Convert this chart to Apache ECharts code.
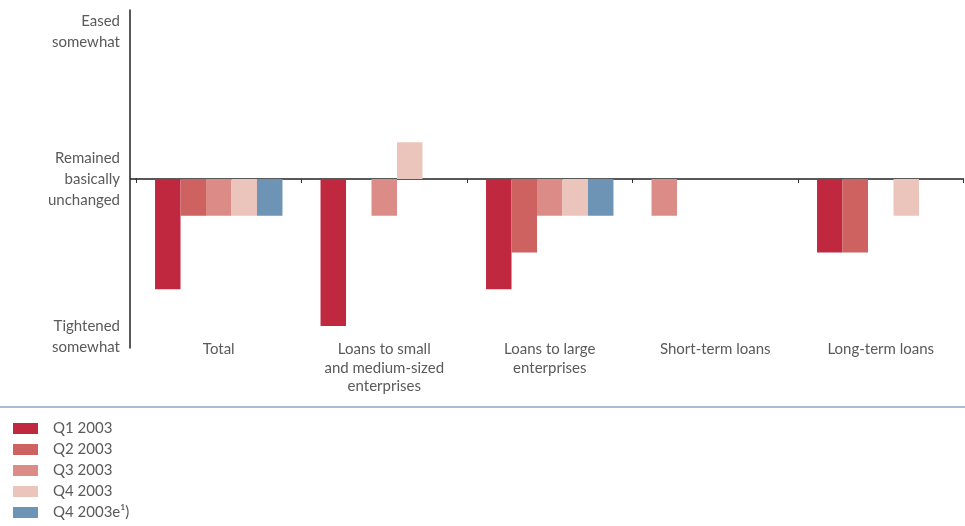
<!DOCTYPE html>
<html>
<head>
<meta charset="utf-8">
<script src="https://cdn.jsdelivr.net/npm/echarts@6/dist/echarts.min.js"></script>
<style>html,body{margin:0;padding:0;background:#fff}#c{width:965px;height:526px}</style>
</head>
<body>
<div id="c"></div>
<script>
const categories = ['Total', 'Loans to small\nand medium-sized\nenterprises', 'Loans to large\nenterprises', 'Short-term loans', 'Long-term loans'];
const seriesNames = ['Q1 2003', 'Q2 2003', 'Q3 2003', 'Q4 2003', 'Q4 2003e\u00b9)'];
const q1_2003 = [-0.75, -1, -0.75, -0.25, -0.5];
const q2_2003 = [-0.25, 0, -0.5, 0, -0.5];
const q3_2003 = [-0.25, -0.25, -0.25, 0, 0];
const q4_2003 = [-0.25, 0.25, -0.25, 0, -0.25];
const q4_2003e = [-0.25, 0, -0.25, 0, 0];
const yTickValues = [-1, 0, 1];
const yTickLabels = ['\nTightened\nsomewhat', 'Remained\nbasically\nunchanged', 'Eased\nsomewhat'];

const colors = ['#c02840', '#cd6260', '#db8c86', '#ebc4bb', '#6d93b5'];
const allData = [q1_2003, q2_2003, q3_2003, q4_2003, q4_2003e];
const font = 'Lato, "Open Sans", sans-serif';

const series = allData.map((d, i) => ({
  name: seriesNames[i],
  type: 'bar',
  xAxisIndex: 0,
  barGap: 0,
  barCategoryGap: '23%',
  itemStyle: { color: colors[i] },
  data: d.map((v, j) => (i === 0 && j === 3) ? { value: v, itemStyle: { color: colors[2] } } : v)
}));

const chart = echarts.init(document.getElementById('c'), null, { renderer: 'canvas' });
chart.setOption({
  animation: false,
  textStyle: { fontFamily: font },
  grid: { left: 136, right: 1.5, top: 10, height: 338 },
  xAxis: [
    {
      type: 'category', data: categories,
      axisLine: { onZero: true, lineStyle: { color: '#222', width: 1.5 } },
      axisTick: { show: true, length: 4, lineStyle: { color: '#333' } },
      axisLabel: { show: false },
      splitLine: { show: false }
    },
    {
      type: 'category', data: categories, position: 'bottom',
      axisLine: { show: false, onZero: false },
      axisTick: { show: false },
      axisLabel: { show: true, margin: -8, color: '#5a5a5a', fontSize: 15, lineHeight: 18.5, fontFamily: font, interval: 0 },
      splitLine: { show: false }
    }
  ],
  yAxis: {
    type: 'value', min: -1.15, max: 1.15, offset: 6,
    axisLine: { show: true, lineStyle: { color: '#222', width: 1.5 } },
    axisTick: { show: false },
    splitLine: { show: false },
    axisLabel: {
      customValues: yTickValues,
      formatter: v => yTickLabels[yTickValues.indexOf(v)] || '',
      color: '#5a5a5a', fontSize: 15, lineHeight: 21, margin: 10, align: 'right', fontFamily: font
    }
  },
  legend: {
    orient: 'vertical', left: 13, top: 418, padding: 0, icon: 'rect',
    itemWidth: 25, itemHeight: 11, itemGap: 0, height: 120,
    data: seriesNames,
    textStyle: { color: '#5a5a5a', fontSize: 15, lineHeight: 21, fontFamily: font, padding: [0, 0, 0, 10] }
  },
  graphic: [
    { type: 'line', shape: { x1: 0, y1: 407, x2: 965, y2: 407 }, style: { stroke: '#a8bdcf', lineWidth: 2 } },
    { type: 'line', shape: { x1: 130, y1: 179, x2: 137, y2: 179 }, style: { stroke: '#222', lineWidth: 1.5 } }
  ],
  series: series
});
</script>
</body>
</html>
